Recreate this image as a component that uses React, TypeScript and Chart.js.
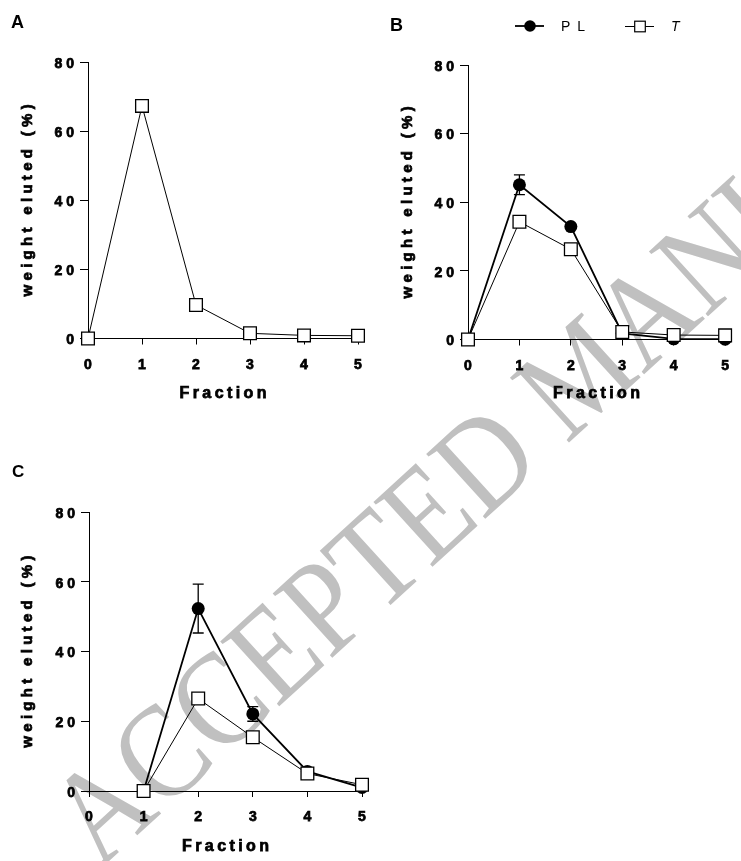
import React, { useEffect, useRef } from 'react';
import { Chart, registerables } from 'chart.js';

Chart.register(...registerables);

// ---------- data ----------
const FRACTIONS_AB = [0, 1, 2, 3, 4, 5];
const FRACTIONS_C = [1, 2, 3, 4, 5];
const A_T = [0, 67.3, 9.7, 1.5, 0.9, 0.8];
const B_PL = [0, 45.1, 32.9, 1.8, 0.2, 0.1];
const B_PL_ERR = [0, 2.9, 0, 0, 0, 0];
const B_T = [0, 34.3, 26.3, 2.2, 1.3, 1.2];
const C_PL = [0, 52.3, 22.1, 5.6, 1.0];
const C_PL_ERR = [0, 7.0, 2.1, 0, 0];
const C_T = [0, 26.5, 15.4, 5.0, 1.8];
const X_TICKS = [0, 1, 2, 3, 4, 5];
const Y_TICKS = [0, 20, 40, 60, 80];
const SERIES_NAMES = ['PL', 'T'];
const Y_TITLE = 'weight eluted (%)';
const X_TITLE = 'Fraction';
const PANEL_LABELS = ['A', 'B', 'C'];
const WATERMARK = 'ACCEPTED MANUSCRIPT';

const FONT = '"Liberation Sans", Arial, Helvetica, sans-serif';
const STROKE = 0.75; // emulated bold (canvas letterSpacing drops the bold face)

type Series = { kind: 'circle' | 'square'; xs: number[]; ys: number[]; errs?: number[] };
type Panel = {
  left: number; top: number; width: number; height: number;
  area: { l: number; t: number; r: number; b: number };
  xTitleY: number; yTitleX: number; series: Series[]; legend: boolean;
};

const PANELS: Panel[] = [
  {
    left: 0, top: 0, width: 380, height: 410,
    area: { l: 88, t: 62, r: 358, b: 338.5 }, xTitleY: 394, yTitleX: 28,
    series: [{ kind: 'square', xs: FRACTIONS_AB, ys: A_T }], legend: false,
  },
  {
    left: 380, top: 0, width: 361, height: 410,
    area: { l: 88, t: 65, r: 354, b: 339.5 }, xTitleY: 394, yTitleX: 28,
    series: [
      { kind: 'square', xs: FRACTIONS_AB, ys: B_T },
      { kind: 'circle', xs: FRACTIONS_AB, ys: B_PL, errs: B_PL_ERR },
    ],
    legend: true,
  },
  {
    left: 0, top: 450, width: 380, height: 411,
    area: { l: 89, t: 62, r: 362, b: 341 }, xTitleY: 397, yTitleX: 28,
    series: [
      { kind: 'square', xs: FRACTIONS_C, ys: C_T },
      { kind: 'circle', xs: FRACTIONS_C, ys: C_PL, errs: C_PL_ERR },
    ],
    legend: false,
  },
];

function makeChart(canvas: HTMLCanvasElement, p: Panel) {
  const datasets = p.series.map((s) => {
    const pts = s.xs.map((x, j) => ({ x, y: s.ys[j] }));
    if (s.kind === 'square') {
      return {
        label: SERIES_NAMES[1], data: pts, order: 0,
        borderColor: '#000', borderWidth: 1, tension: 0, clip: false as any,
        pointStyle: 'rect', pointRadius: 9, pointHoverRadius: 9,
        pointBackgroundColor: '#fff', pointBorderColor: '#000', pointBorderWidth: 1.3,
      };
    }
    return {
      label: SERIES_NAMES[0], data: pts, order: 1,
      borderColor: '#000', borderWidth: 1.8, tension: 0, clip: false as any,
      pointStyle: 'circle', pointRadius: 6.5, pointHoverRadius: 6.5,
      pointBackgroundColor: '#000', pointBorderColor: '#000', pointBorderWidth: 0,
    };
  });

  const spacingPlugin = {
    id: 'spacing',
    beforeDraw(chart: any) {
      chart.ctx.letterSpacing = '4px';
    },
  };

  const errPlugin = {
    id: 'errbars',
    afterDatasetsDraw(chart: any) {
      const { ctx } = chart;
      const xs = chart.scales.x;
      const ys = chart.scales.y;
      ctx.save();
      ctx.strokeStyle = '#000';
      ctx.lineWidth = 1.3;
      p.series.forEach((s) => {
        if (!s.errs) return;
        s.xs.forEach((xv, i) => {
          const e = s.errs![i];
          if (!e) return;
          const px = xs.getPixelForValue(xv);
          const top = ys.getPixelForValue(s.ys[i] + e);
          const bot = ys.getPixelForValue(s.ys[i] - e);
          ctx.beginPath();
          ctx.moveTo(px, top); ctx.lineTo(px, bot);
          ctx.moveTo(px - 5.5, top); ctx.lineTo(px + 5.5, top);
          ctx.moveTo(px - 5.5, bot); ctx.lineTo(px + 5.5, bot);
          ctx.stroke();
        });
      });
      ctx.restore();
    },
  };

  const drawText = (ctx: CanvasRenderingContext2D, t: string, x: number, y: number) => {
    ctx.fillText(t, x, y);
    ctx.lineWidth = STROKE;
    ctx.strokeStyle = '#000';
    ctx.strokeText(t, x, y);
  };

  const titlePlugin = {
    id: 'titles',
    afterDraw(chart: any) {
      const { ctx, chartArea } = chart;
      ctx.save();
      ctx.fillStyle = '#000';
      ctx.textAlign = 'center';
      ctx.textBaseline = 'middle';
      ctx.font = `bold 16px ${FONT}`;
      ctx.letterSpacing = '3.4px';
      drawText(ctx, X_TITLE, (chartArea.left + chartArea.right) / 2 + 1.7, p.xTitleY);
      ctx.translate(p.yTitleX, (chartArea.top + chartArea.bottom) / 2);
      ctx.rotate(-Math.PI / 2);
      ctx.font = `bold 15px ${FONT}`;
      ctx.letterSpacing = '4.3px';
      drawText(ctx, Y_TITLE, 2, 0);
      ctx.restore();

      if (p.legend) {
        ctx.save();
        ctx.strokeStyle = '#000';
        ctx.fillStyle = '#000';
        ctx.letterSpacing = '0px';
        ctx.lineWidth = 1.8;
        ctx.beginPath(); ctx.moveTo(135, 26); ctx.lineTo(164, 26); ctx.stroke();
        ctx.beginPath(); ctx.arc(150, 26, 5.8, 0, Math.PI * 2); ctx.fill();
        ctx.font = `14px ${FONT}`;
        ctx.letterSpacing = '7px';
        ctx.textAlign = 'left';
        ctx.textBaseline = 'middle';
        ctx.fillText(SERIES_NAMES[0], 181, 27);
        ctx.letterSpacing = '0px';
        ctx.lineWidth = 1;
        ctx.beginPath(); ctx.moveTo(245, 26.5); ctx.lineTo(274, 26.5); ctx.stroke();
        ctx.fillStyle = '#fff';
        ctx.fillRect(254.7, 21.2, 10.6, 10.6);
        ctx.lineWidth = 1.2;
        ctx.strokeRect(254.7, 21.2, 10.6, 10.6);
        ctx.fillStyle = '#000';
        ctx.font = `italic 14px ${FONT}`;
        ctx.fillText(SERIES_NAMES[1], 291, 27);
        ctx.restore();
      }
    },
  };

  const tickFont = { family: FONT, size: 14, weight: 'bold' };
  const strokeOpts = { textStrokeColor: '#000', textStrokeWidth: STROKE };

  return new Chart(canvas, {
    type: 'line',
    data: { datasets: datasets as any },
    options: {
      responsive: false,
      animation: false,
      devicePixelRatio: 1,
      layout: { padding: { left: 0, top: p.area.t, right: p.width - p.area.r, bottom: 0 } },
      plugins: { legend: { display: false }, tooltip: { enabled: false }, title: { display: false } },
      scales: {
        x: {
          type: 'linear', min: 0, max: 5,
          afterBuildTicks: (s: any) => { s.ticks = X_TICKS.map((v) => ({ value: v })); },
          afterFit: (s: any) => { s.height = p.height - p.area.b; },
          grid: { display: true, drawOnChartArea: false, drawTicks: true, tickLength: 6, color: '#000', lineWidth: 1 },
          border: { display: true, color: '#000', width: 1 },
          ticks: { color: '#000', font: tickFont, padding: 12, labelOffset: 2, maxRotation: 0, autoSkip: false, ...strokeOpts },
          title: { display: false },
        },
        y: {
          type: 'linear', min: 0, max: 80,
          afterBuildTicks: (s: any) => { s.ticks = Y_TICKS.map((v) => ({ value: v })); },
          afterFit: (s: any) => { s.width = p.area.l; },
          grid: { display: true, drawOnChartArea: false, drawTicks: true, tickLength: 8, color: '#000', lineWidth: 1 },
          border: { display: true, color: '#000', width: 1 },
          ticks: { color: '#000', font: tickFont, padding: 2, labelOffset: 2, autoSkip: false, ...strokeOpts },
          title: { display: false },
        },
      },
    } as any,
    plugins: [spacingPlugin, errPlugin, titlePlugin],
  });
}

export default function App() {
  const canvasRefs = useRef<(HTMLCanvasElement | null)[]>([]);

  useEffect(() => {
    document.body.style.margin = '0';
    const charts = PANELS.map((p, i) => makeChart(canvasRefs.current[i]!, p));
    return () => charts.forEach((c) => c.destroy());
  }, []);

  const labelPos = [
    { left: 11, top: 12.6, size: 18 },
    { left: 390, top: 15.6, size: 18 },
    { left: 12, top: 462.6, size: 17 },
  ];

  return (
    <div style={{ position: 'relative', width: 741, height: 861, overflow: 'hidden', background: '#fff' }}>
      <div
        style={{
          position: 'absolute', left: 24, top: 787,
          fontFamily: '"Liberation Serif", "Times New Roman", serif',
          fontSize: 134, lineHeight: 1, color: '#c0c0c0', whiteSpace: 'nowrap',
          transformOrigin: '0 0', transform: 'rotate(-42.3deg) scaleX(0.87)',
        }}
      >
        {WATERMARK}
      </div>
      {PANELS.map((p, i) => (
        <canvas
          key={i}
          ref={(el) => { canvasRefs.current[i] = el; }}
          width={p.width}
          height={p.height}
          style={{ position: 'absolute', left: p.left, top: p.top, width: p.width, height: p.height, display: 'block' }}
        />
      ))}
      {PANEL_LABELS.map((t, i) => (
        <div
          key={t}
          style={{
            position: 'absolute', left: labelPos[i].left, top: labelPos[i].top,
            fontFamily: FONT, fontWeight: 'bold', fontSize: labelPos[i].size, lineHeight: 1, color: '#000',
          }}
        >
          {t}
        </div>
      ))}
    </div>
  );
}
